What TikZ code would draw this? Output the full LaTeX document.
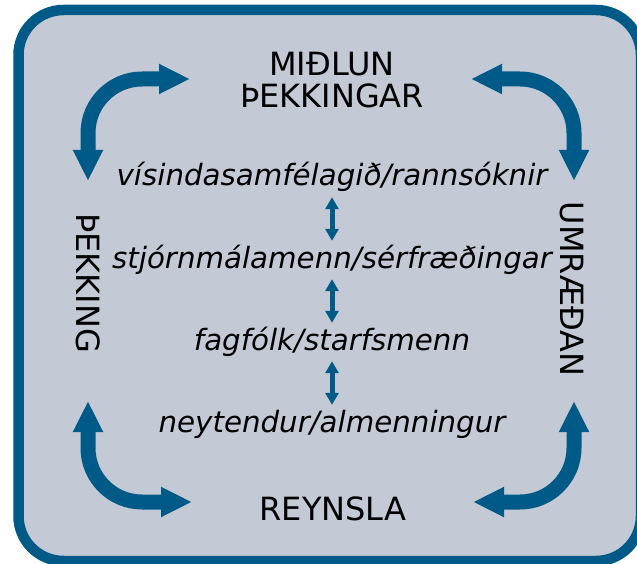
\documentclass[tikz,border=0pt]{standalone}
\usepackage{fontspec}
\setmainfont{DejaVu Sans}
\usepackage{tikz}
\usetikzlibrary{arrows.meta}
\usetikzlibrary{positioning}
\tikzstyle{board} = [line width=10.5pt, draw=deepblue, fill=paleslate, rounded corners=45pt]
\tikzstyle{heading} = [inner sep=0pt, text centered, font=\fontsize{32}{32}\selectfont]
\tikzstyle{tier} = [inner sep=0pt, text height=23pt, text depth=7pt, font=\fontsize{29.3}{32}\selectfont\itshape]
\tikzstyle{bigarrow} = [line width=15pt, draw=deepblue, rounded corners=54pt, {Triangle[width=28pt,length=31pt]}-{Triangle[width=28pt,length=31pt]}]
\tikzstyle{smallarrow} = [line width=5pt, draw=deepblue, {Triangle[width=13pt,length=12pt]}-{Triangle[width=13pt,length=12pt]}, shorten >=4pt, shorten <=4pt]
\definecolor{deepblue}{RGB}{  0  90 135}
\definecolor{paleslate}{RGB}{196 201 214}
\begin{document}
\begin{tikzpicture}[x=1pt, y=-1pt, node distance={82pt}]
        \useasboundingbox (0,0) rectangle (637,564);
        \clip (0,0) rectangle (637,564);
        \draw [board] (18.5,10) rectangle (641,561);
        \node (share) [heading, align=center] at (332,80) {MIÐLUN\\ÞEKKINGAR};
        \node (exp) [heading] at (333,509) {REYNSLA};
        \node (know) [heading, rotate=-90] at (88,283) {ÞEKKING};
        \node (talk) [heading, rotate=-90] at (572,289) {UMRÆÐAN};
        \node (sci) [tier] at (332,178) {vísindasamfélagið/rannsóknir};
        \node (pol) [tier, below of=sci] {stjórnmálamenn/sérfræðingar};
        \node (prof) [tier, below of=pol] {fagfólk/starfsmenn};
        \node (pub) [tier, below of=prof] {neytendur/almenningur};
        \coordinate (nwv) at (88,181);
        \coordinate (nwh) at (190,79);
        \coordinate (neh) at (471,79);
        \coordinate (nev) at (574,181);
        \coordinate (swv) at (88,401);
        \coordinate (swh) at (192,502);
        \coordinate (seh) at (473,502);
        \coordinate (sev) at (574,401);
        \draw [bigarrow] (nwv) |- (nwh);
        \draw [bigarrow] (neh) -| (nev);
        \draw [bigarrow] (swv) |- (swh);
        \draw [bigarrow] (seh) -| (sev);
        \draw [smallarrow] (sci.south) -- (pol.north);
        \draw [smallarrow] (pol.south) -- (prof.north);
        \draw [smallarrow] (prof.south) -- (pub.north);
    \end{tikzpicture}
\end{document}
